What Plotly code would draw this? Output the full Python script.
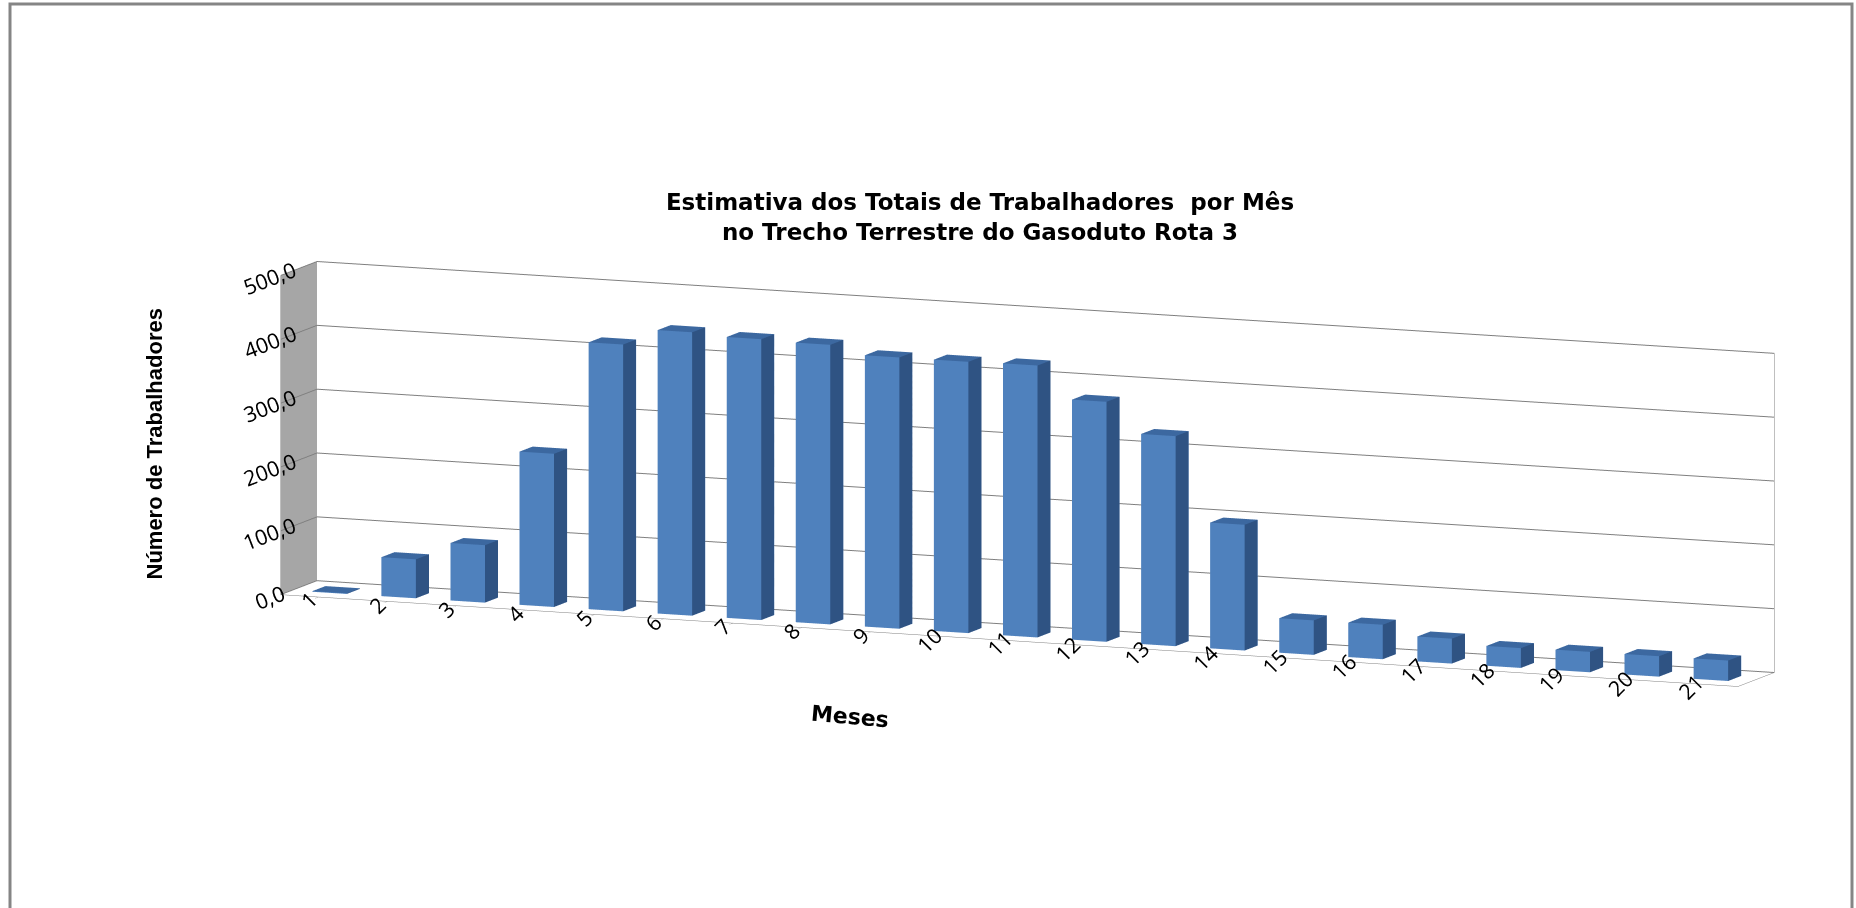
import plotly.graph_objects as go

# ---- data ----
months = list(range(1, 22))
month_labels = [str(m) for m in months]
workers = [1, 61, 90, 240, 418, 444, 440, 438, 425, 425, 426, 376, 329, 197, 54, 54, 39, 31, 32, 32, 32]
y_ticks = [0, 100, 200, 300, 400, 500]

# ---- styling ----
FRONT = "#4F81BD"
SIDE = "#2F5383"
TOP = "#3C68A0"
HALF_W = 0.25
D0, D1 = 0.3, 0.66

xs, ys, zs, ii, jj, kk, fc = [], [], [], [], [], [], []
for m, v in zip(months, workers):
    b = len(xs)
    x0, x1 = m - HALF_W, m + HALF_W
    for (cx, cy, cz) in [(x0, D0, 0), (x1, D0, 0), (x1, D1, 0), (x0, D1, 0),
                         (x0, D0, v), (x1, D0, v), (x1, D1, v), (x0, D1, v)]:
        xs.append(cx); ys.append(cy); zs.append(cz)
    faces = [
        ((0, 1, 5), FRONT), ((0, 5, 4), FRONT),   # front
        ((1, 2, 6), SIDE), ((1, 6, 5), SIDE),     # right
        ((4, 5, 6), TOP), ((4, 6, 7), TOP),       # top
        ((3, 0, 4), FRONT), ((3, 4, 7), FRONT),   # left
        ((2, 3, 7), FRONT), ((2, 7, 6), FRONT),   # back
        ((0, 1, 2), FRONT), ((0, 2, 3), FRONT),   # bottom
    ]
    for (a, c, d), col in faces:
        ii.append(b + a); jj.append(b + c); kk.append(b + d); fc.append(col)

fig = go.Figure(go.Mesh3d(
    x=xs, y=ys, z=zs, i=ii, j=jj, k=kk, facecolor=fc,
    flatshading=True,
    lighting=dict(ambient=1.0, diffuse=0.0, specular=0.0, roughness=1.0, fresnel=0.0),
    hoverinfo="skip", showscale=False,
))

tick_font = dict(family="Open Sans, Liberation Sans, Arial", size=16, color="#000000")
GRID = "#7F7F7F"

fig.update_layout(
    width=1856, height=908,
    margin=dict(l=0, r=0, t=0, b=0),
    paper_bgcolor="white",
    separators=",.",
    showlegend=False,
    hovermode=False,
    scene=dict(
        domain=dict(x=[0.1135, 0.9935], y=[0.043, 0.913]),
        aspectmode="manual",
        aspectratio=dict(x=3.98, y=0.245, z=0.818),
        camera=dict(
            eye=dict(x=1.19, y=-2.94, z=0.5),
            center=dict(x=0, y=0, z=0),
            up=dict(x=0, y=0, z=1),
            projection=dict(type="orthographic"),
        ),
        xaxis=dict(
            range=[0.45, 21.55], tickmode="array", tickvals=months, ticktext=month_labels,
            tickangle=-45,
            showgrid=False, showbackground=True, backgroundcolor="#A6A6A6",
            showline=True, linecolor=GRID, ticks="outside", tickcolor=GRID, ticklen=10,
            title=dict(text=""), tickfont=tick_font, showspikes=False, zeroline=False,
        ),
        yaxis=dict(
            range=[0, 1], showgrid=False, showticklabels=False, ticks="",
            showbackground=True, backgroundcolor="white",
            showline=True, linecolor=GRID,
            title=dict(text=""), showspikes=False, zeroline=False,
        ),
        zaxis=dict(
            range=[0, 500], tickmode="array", tickvals=y_ticks, tickformat=".1f",
            showgrid=True, gridcolor=GRID, gridwidth=2,
            showbackground=True, backgroundcolor="white",
            showline=True, linecolor=GRID, mirror=True,
            ticks="outside", tickcolor="white", ticklen=30,
            showticklabels=True,
            title=dict(text=""), tickfont=tick_font, showspikes=False, zeroline=False,
        ),
    ),
    title=dict(
        text="Estimativa dos Totais de Trabalhadores  por Mês<br>no Trecho Terrestre do Gasoduto Rota 3",
        x=980 / 1856, xanchor="center", y=1 - 210 / 908, yanchor="middle",
        font=dict(family="DejaVu Sans, Liberation Sans, Arial", size=23, color="#000000", weight="bold"),
    ),
    annotations=[
        dict(text="<b>Número de Trabalhadores</b>", xref="paper", yref="paper",
             x=139 / 1856, y=1 - 444 / 908, showarrow=False, textangle=-90,
             font=dict(family="Liberation Sans Narrow, Liberation Sans, Arial", size=22, color="#000000")),
        dict(text="<b>Meses</b>", xref="paper", yref="paper",
             x=850 / 1856, y=1 - 735 / 908, showarrow=False, textangle=5,
             font=dict(family="DejaVu Sans, Liberation Sans, Arial", size=22, color="#000000")),
    ],
    shapes=[
        dict(type="rect", xref="paper", yref="paper",
             x0=10 / 1856, x1=1852 / 1856, y0=-0.02, y1=1 - 4 / 908,
             line=dict(color="#858585", width=3), fillcolor="rgba(0,0,0,0)", layer="above"),
    ],
)

fig.write_html("out.html")
